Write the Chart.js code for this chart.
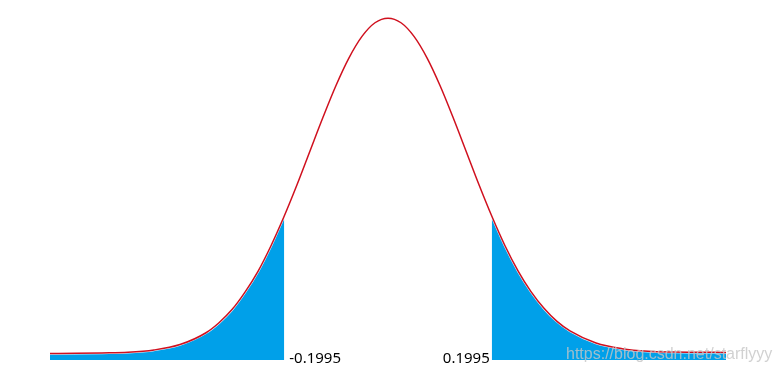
<!DOCTYPE html>
<html>
<head>
<meta charset="utf-8">
<script src="https://cdn.jsdelivr.net/npm/chart.js@4.4.0/dist/chart.umd.min.js"></script>
<style>
  html, body { margin: 0; padding: 0; background: #fff; }
  .chart-wrap { position: relative; width: 780px; height: 373px; }
</style>
</head>
<body>
<div class="chart-wrap"><canvas id="dist-chart"></canvas></div>
<script>
// curve (x in data units, y as density height)
const xValues = [-0.65, -0.6, -0.55, -0.5, -0.45, -0.4, -0.35, -0.325, -0.3, -0.275, -0.25, -0.225, -0.1995,
  -0.175, -0.15, -0.125, -0.1, -0.075, -0.05, -0.025, 0, 0.025, 0.05, 0.075, 0.1, 0.125, 0.15, 0.175,
  0.1995, 0.225, 0.25, 0.275, 0.3, 0.325, 0.35, 0.4, 0.45, 0.5, 0.55, 0.6, 0.65];
const yValues = [0.050, 0.052, 0.055, 0.060, 0.078, 0.120, 0.212, 0.290, 0.392, 0.528, 0.690, 0.889, 1.120,
  1.363, 1.626, 1.888, 2.135, 2.350, 2.517, 2.623, 2.659, 2.623, 2.517, 2.350, 2.135, 1.888, 1.626, 1.363,
  1.120, 0.889, 0.694, 0.532, 0.402, 0.300, 0.226, 0.132, 0.088, 0.068, 0.062, 0.060, 0.059];
const cutoffs = [-0.1995, 0.1995];
const cutoffLabels = ['-0.1995', '0.1995'];
const watermark = 'https://blog.csdn.net/starflyyy';

const curve = xValues.map((x, i) => ({ x, y: yValues[i] }));
const leftTail = curve.filter(p => p.x <= cutoffs[0]);
const rightTail = curve.filter(p => p.x >= cutoffs[1]);

const labelPlugin = {
  id: 'cutoffLabels',
  afterDraw(chart) {
    const ctx = chart.ctx;
    const xs = chart.scales.x;
    ctx.save();
    ctx.font = '15px "Noto Sans", "Liberation Sans", sans-serif';
    ctx.fillStyle = '#000';
    ctx.textBaseline = 'alphabetic';
    ctx.textAlign = 'left';
    ctx.fillText(cutoffLabels[0], xs.getPixelForValue(cutoffs[0]) + 5, 363);
    ctx.textAlign = 'right';
    ctx.fillText(cutoffLabels[1], xs.getPixelForValue(cutoffs[1]) - 2, 363);
    ctx.font = '16px "Liberation Sans", Arial, sans-serif';
    ctx.fillStyle = 'rgba(197,197,197,0.8)';
    ctx.textAlign = 'left';
    ctx.fillText(watermark, 566, 359);
    ctx.restore();
  }
};

const tailStyle = {
  backgroundColor: '#00a0e9',
  borderColor: 'rgba(255,255,255,0.9)',
  borderWidth: 2.5,
  pointRadius: 0,
  fill: 'origin',
  cubicInterpolationMode: 'monotone',
  order: 1
};

new Chart(document.getElementById('dist-chart').getContext('2d'), {
  type: 'line',
  data: {
    datasets: [
      {
        data: curve,
        borderColor: '#d0101e',
        borderWidth: 1.5,
        pointRadius: 0,
        fill: false,
        cubicInterpolationMode: 'monotone',
        order: 0
      },
      Object.assign({ data: leftTail }, tailStyle),
      Object.assign({ data: rightTail }, tailStyle)
    ]
  },
  options: {
    responsive: true,
    maintainAspectRatio: false,
    animation: false,
    layout: { padding: { left: 50, right: 54, top: 0, bottom: 13 } },
    plugins: { legend: { display: false }, tooltip: { enabled: false } },
    scales: {
      x: { type: 'linear', min: -0.65, max: 0.65, display: false },
      y: { min: 0, max: 2.8, display: false }
    }
  },
  plugins: [labelPlugin]
});
</script>
</body>
</html>
